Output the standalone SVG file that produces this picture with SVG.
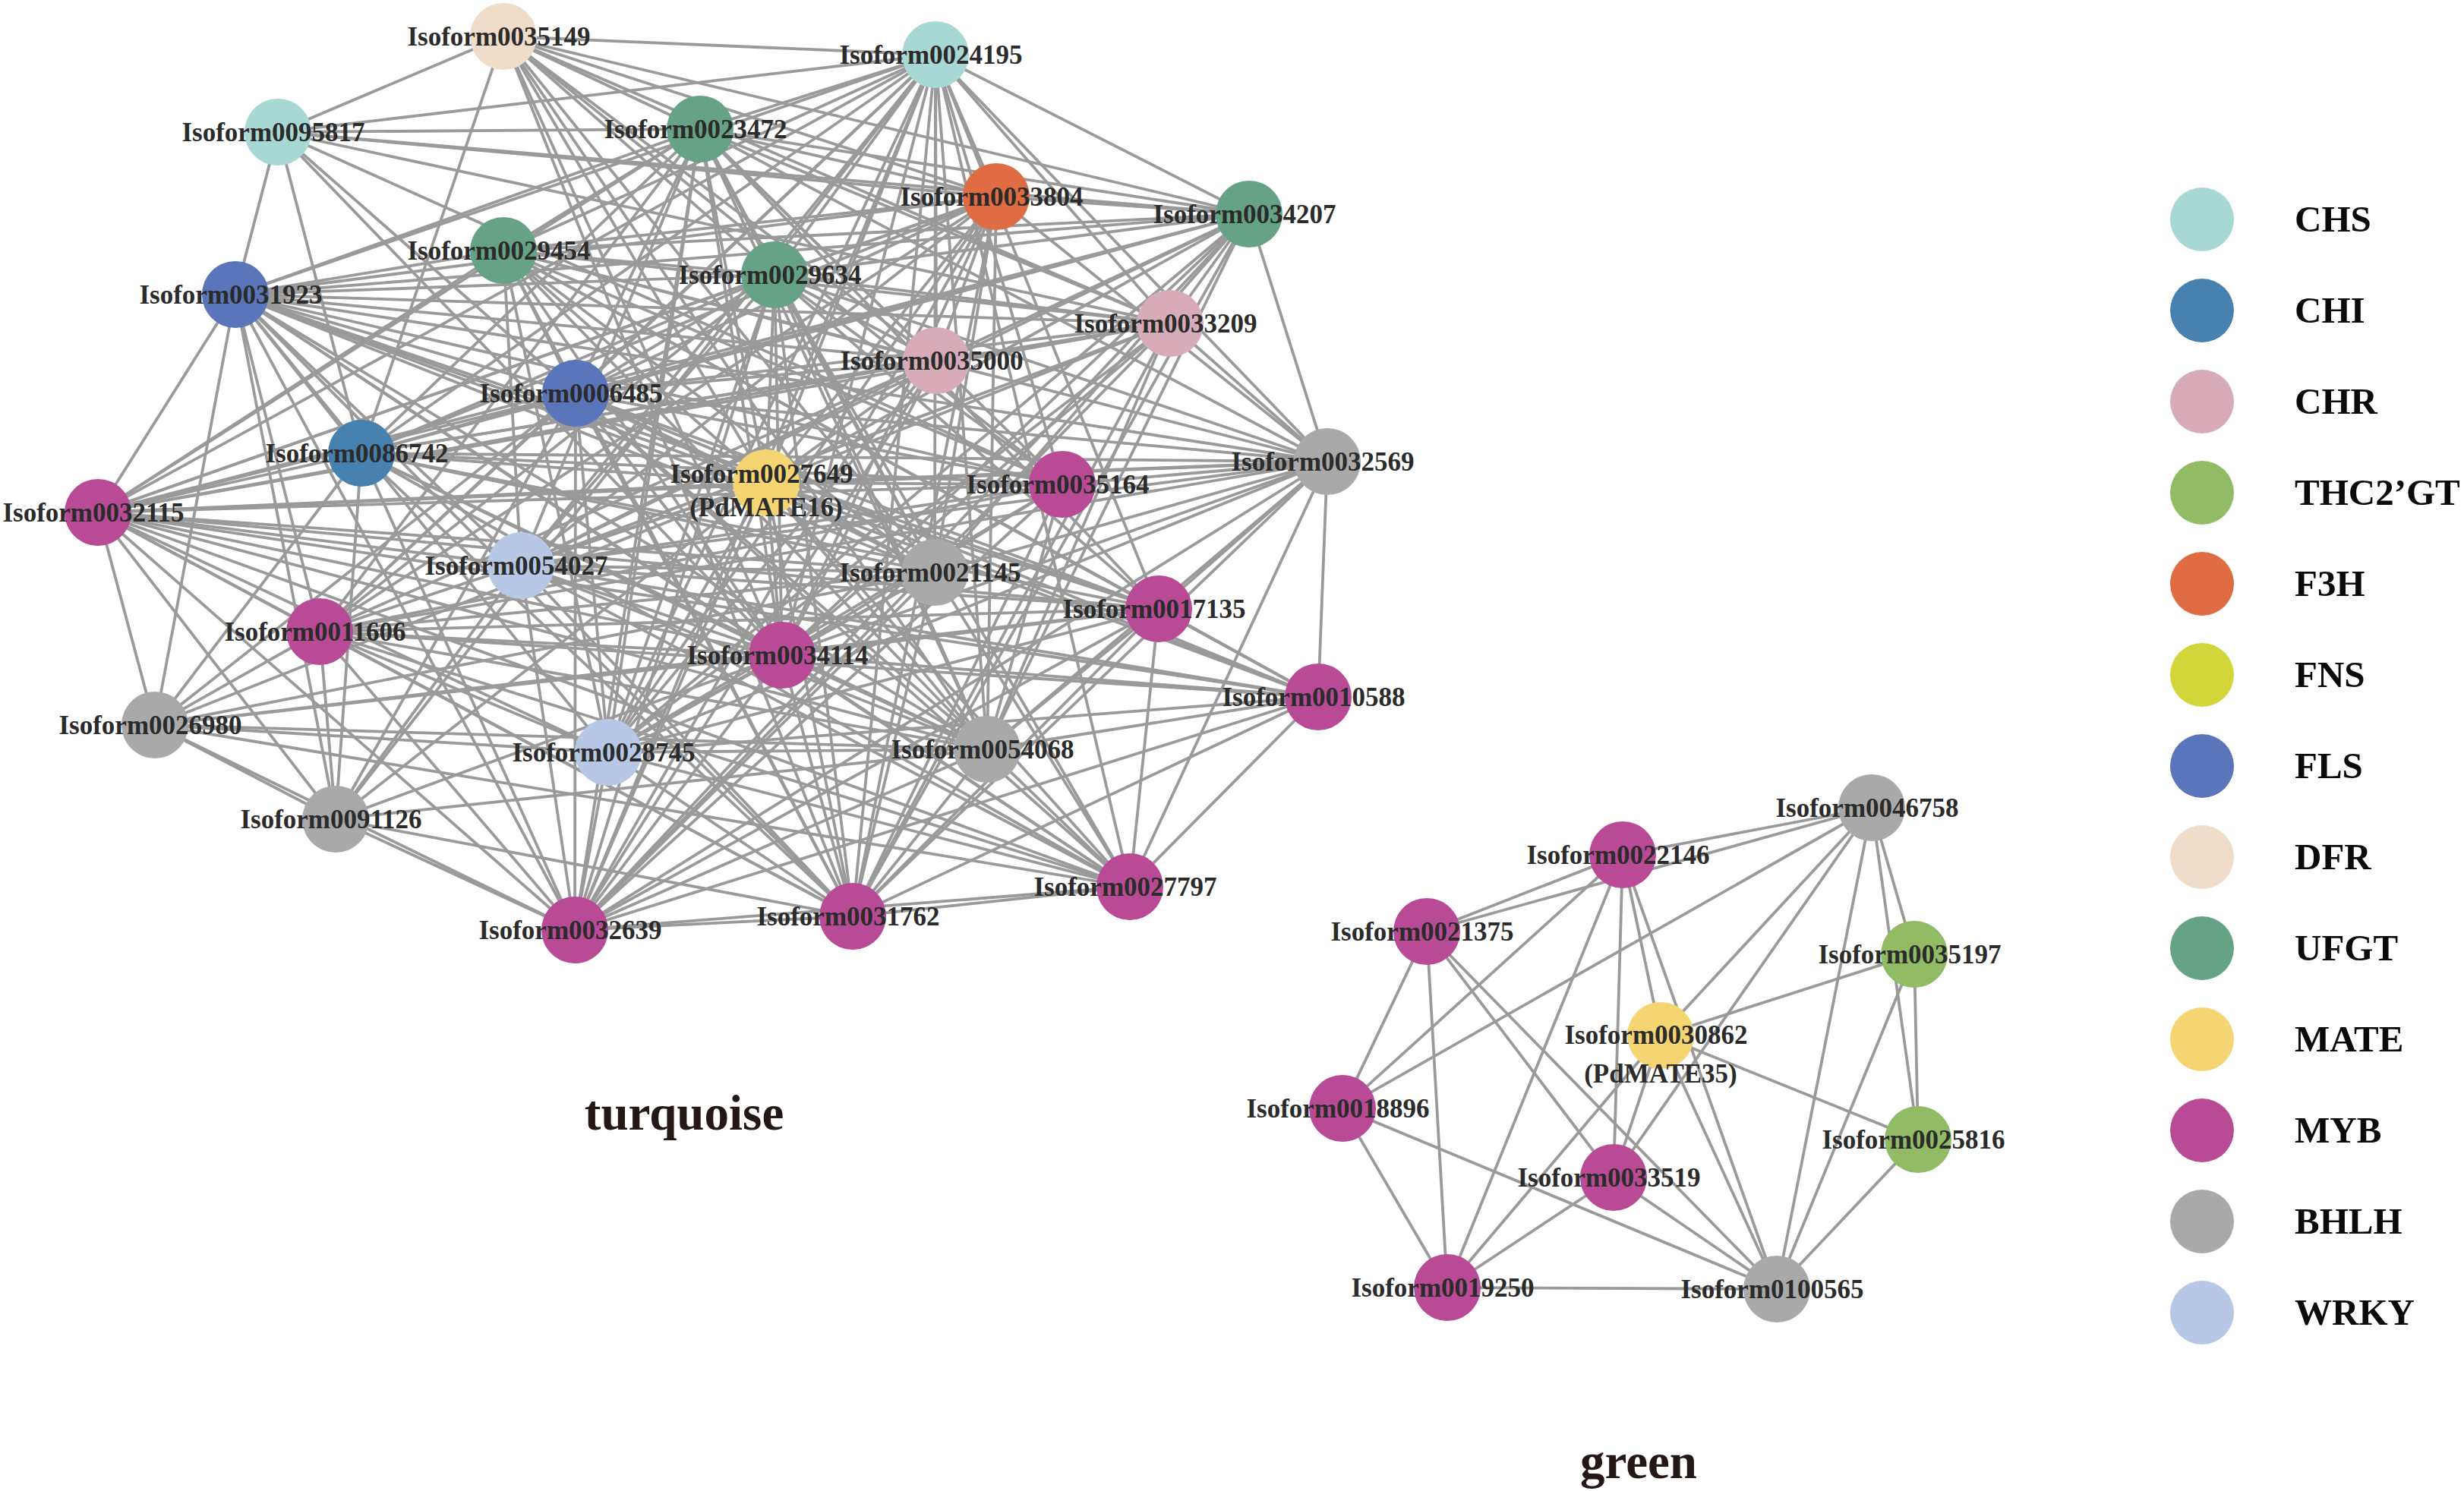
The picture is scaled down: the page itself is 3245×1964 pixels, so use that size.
<svg xmlns="http://www.w3.org/2000/svg" width="3245" height="1964" viewBox="0 0 3245 1964">
<style>
#edges line{stroke:#9a9a9a;stroke-width:3.8}
.n text{font-family:"Liberation Serif","Times New Roman",serif;font-weight:bold;font-size:35px;fill:#2b2b2b;text-anchor:middle}
.leg text{font-family:"Liberation Serif","Times New Roman",serif;font-weight:bold;font-size:49px;fill:#0a0a0a}
.title{font-family:"Liberation Serif","Times New Roman",serif;font-weight:bold;font-size:65px;fill:#231815;text-anchor:middle}
.chs{fill:#a8d8d3}.chi{fill:#4681b0}.chr{fill:#d8abb9}.thc{fill:#91bb64}.f3h{fill:#df6c42}.fns{fill:#d2d63a}.fls{fill:#5a75b9}.dfr{fill:#efdcc9}.ufgt{fill:#66a386}.mate{fill:#f5d572}.myb{fill:#b94a96}.bhlh{fill:#a9a9a9}.wrky{fill:#b7c8e7}
</style>
<rect width="3245" height="1964" fill="#ffffff"/>
<g id="edges">
<line x1="663" y1="48" x2="1232" y2="72"/><line x1="663" y1="48" x2="366" y2="174"/><line x1="663" y1="48" x2="922" y2="170"/><line x1="663" y1="48" x2="1312" y2="259"/><line x1="663" y1="48" x2="1645" y2="282"/><line x1="663" y1="48" x2="1020" y2="362"/><line x1="663" y1="48" x2="1541" y2="426"/><line x1="663" y1="48" x2="1233" y2="475"/><line x1="663" y1="48" x2="476" y2="597"/><line x1="663" y1="48" x2="1009" y2="636"/><line x1="663" y1="48" x2="1399" y2="638"/><line x1="663" y1="48" x2="1231" y2="754"/><line x1="663" y1="48" x2="1030" y2="863"/><line x1="663" y1="48" x2="1300" y2="987"/><line x1="663" y1="48" x2="1123" y2="1207"/>
<line x1="1232" y1="72" x2="366" y2="174"/><line x1="1232" y1="72" x2="922" y2="170"/><line x1="1232" y1="72" x2="1312" y2="259"/><line x1="1232" y1="72" x2="1645" y2="282"/><line x1="1232" y1="72" x2="663" y2="330"/><line x1="1232" y1="72" x2="1020" y2="362"/><line x1="1232" y1="72" x2="310" y2="388"/><line x1="1232" y1="72" x2="1541" y2="426"/><line x1="1232" y1="72" x2="1233" y2="475"/><line x1="1232" y1="72" x2="758" y2="518"/><line x1="1232" y1="72" x2="476" y2="597"/><line x1="1232" y1="72" x2="1748" y2="608"/><line x1="1232" y1="72" x2="1009" y2="636"/><line x1="1232" y1="72" x2="1399" y2="638"/><line x1="1232" y1="72" x2="129" y2="675"/><line x1="1232" y1="72" x2="686" y2="745"/><line x1="1232" y1="72" x2="1231" y2="754"/><line x1="1232" y1="72" x2="1526" y2="802"/><line x1="1232" y1="72" x2="421" y2="832"/><line x1="1232" y1="72" x2="1030" y2="863"/><line x1="1232" y1="72" x2="801" y2="991"/><line x1="1232" y1="72" x2="1300" y2="987"/><line x1="1232" y1="72" x2="442" y2="1079"/><line x1="1232" y1="72" x2="1488" y2="1168"/><line x1="1232" y1="72" x2="1123" y2="1207"/><line x1="1232" y1="72" x2="757" y2="1225"/>
<line x1="366" y1="174" x2="922" y2="170"/><line x1="366" y1="174" x2="1312" y2="259"/><line x1="366" y1="174" x2="1645" y2="282"/><line x1="366" y1="174" x2="310" y2="388"/><line x1="366" y1="174" x2="1541" y2="426"/><line x1="366" y1="174" x2="758" y2="518"/><line x1="366" y1="174" x2="476" y2="597"/><line x1="366" y1="174" x2="1399" y2="638"/><line x1="366" y1="174" x2="1030" y2="863"/>
<line x1="922" y1="170" x2="1312" y2="259"/><line x1="922" y1="170" x2="1645" y2="282"/><line x1="922" y1="170" x2="663" y2="330"/><line x1="922" y1="170" x2="1020" y2="362"/><line x1="922" y1="170" x2="310" y2="388"/><line x1="922" y1="170" x2="1541" y2="426"/><line x1="922" y1="170" x2="1233" y2="475"/><line x1="922" y1="170" x2="758" y2="518"/><line x1="922" y1="170" x2="476" y2="597"/><line x1="922" y1="170" x2="1748" y2="608"/><line x1="922" y1="170" x2="1009" y2="636"/><line x1="922" y1="170" x2="1399" y2="638"/><line x1="922" y1="170" x2="129" y2="675"/><line x1="922" y1="170" x2="686" y2="745"/><line x1="922" y1="170" x2="1231" y2="754"/><line x1="922" y1="170" x2="1526" y2="802"/><line x1="922" y1="170" x2="421" y2="832"/><line x1="922" y1="170" x2="1030" y2="863"/><line x1="922" y1="170" x2="801" y2="991"/><line x1="922" y1="170" x2="1300" y2="987"/><line x1="922" y1="170" x2="757" y2="1225"/>
<line x1="1312" y1="259" x2="1645" y2="282"/><line x1="1312" y1="259" x2="663" y2="330"/><line x1="1312" y1="259" x2="1020" y2="362"/><line x1="1312" y1="259" x2="310" y2="388"/><line x1="1312" y1="259" x2="1233" y2="475"/><line x1="1312" y1="259" x2="758" y2="518"/><line x1="1312" y1="259" x2="476" y2="597"/><line x1="1312" y1="259" x2="1748" y2="608"/><line x1="1312" y1="259" x2="1009" y2="636"/><line x1="1312" y1="259" x2="129" y2="675"/><line x1="1312" y1="259" x2="686" y2="745"/><line x1="1312" y1="259" x2="1231" y2="754"/><line x1="1312" y1="259" x2="421" y2="832"/><line x1="1312" y1="259" x2="1030" y2="863"/><line x1="1312" y1="259" x2="801" y2="991"/><line x1="1312" y1="259" x2="1300" y2="987"/><line x1="1312" y1="259" x2="1123" y2="1207"/><line x1="1312" y1="259" x2="757" y2="1225"/>
<line x1="1645" y1="282" x2="663" y2="330"/><line x1="1645" y1="282" x2="1020" y2="362"/><line x1="1645" y1="282" x2="310" y2="388"/><line x1="1645" y1="282" x2="1541" y2="426"/><line x1="1645" y1="282" x2="1233" y2="475"/><line x1="1645" y1="282" x2="758" y2="518"/><line x1="1645" y1="282" x2="476" y2="597"/><line x1="1645" y1="282" x2="1748" y2="608"/><line x1="1645" y1="282" x2="1009" y2="636"/><line x1="1645" y1="282" x2="129" y2="675"/><line x1="1645" y1="282" x2="686" y2="745"/><line x1="1645" y1="282" x2="1231" y2="754"/><line x1="1645" y1="282" x2="1030" y2="863"/><line x1="1645" y1="282" x2="801" y2="991"/><line x1="1645" y1="282" x2="1300" y2="987"/><line x1="1645" y1="282" x2="1123" y2="1207"/><line x1="1645" y1="282" x2="757" y2="1225"/>
<line x1="663" y1="330" x2="1020" y2="362"/><line x1="663" y1="330" x2="310" y2="388"/><line x1="663" y1="330" x2="1541" y2="426"/><line x1="663" y1="330" x2="1233" y2="475"/><line x1="663" y1="330" x2="758" y2="518"/><line x1="663" y1="330" x2="1748" y2="608"/><line x1="663" y1="330" x2="1009" y2="636"/><line x1="663" y1="330" x2="1399" y2="638"/><line x1="663" y1="330" x2="129" y2="675"/><line x1="663" y1="330" x2="686" y2="745"/><line x1="663" y1="330" x2="1231" y2="754"/><line x1="663" y1="330" x2="1526" y2="802"/><line x1="663" y1="330" x2="1030" y2="863"/><line x1="663" y1="330" x2="1736" y2="918"/><line x1="663" y1="330" x2="801" y2="991"/><line x1="663" y1="330" x2="1300" y2="987"/><line x1="663" y1="330" x2="1123" y2="1207"/>
<line x1="1020" y1="362" x2="310" y2="388"/><line x1="1020" y1="362" x2="1541" y2="426"/><line x1="1020" y1="362" x2="1233" y2="475"/><line x1="1020" y1="362" x2="758" y2="518"/><line x1="1020" y1="362" x2="476" y2="597"/><line x1="1020" y1="362" x2="1748" y2="608"/><line x1="1020" y1="362" x2="1009" y2="636"/><line x1="1020" y1="362" x2="1399" y2="638"/><line x1="1020" y1="362" x2="129" y2="675"/><line x1="1020" y1="362" x2="686" y2="745"/><line x1="1020" y1="362" x2="1231" y2="754"/><line x1="1020" y1="362" x2="1526" y2="802"/><line x1="1020" y1="362" x2="421" y2="832"/><line x1="1020" y1="362" x2="1030" y2="863"/><line x1="1020" y1="362" x2="801" y2="991"/><line x1="1020" y1="362" x2="1300" y2="987"/><line x1="1020" y1="362" x2="1488" y2="1168"/><line x1="1020" y1="362" x2="1123" y2="1207"/><line x1="1020" y1="362" x2="757" y2="1225"/>
<line x1="310" y1="388" x2="1541" y2="426"/><line x1="310" y1="388" x2="1233" y2="475"/><line x1="310" y1="388" x2="758" y2="518"/><line x1="310" y1="388" x2="476" y2="597"/><line x1="310" y1="388" x2="1748" y2="608"/><line x1="310" y1="388" x2="1009" y2="636"/><line x1="310" y1="388" x2="1399" y2="638"/><line x1="310" y1="388" x2="129" y2="675"/><line x1="310" y1="388" x2="686" y2="745"/><line x1="310" y1="388" x2="1231" y2="754"/><line x1="310" y1="388" x2="1526" y2="802"/><line x1="310" y1="388" x2="421" y2="832"/><line x1="310" y1="388" x2="1030" y2="863"/><line x1="310" y1="388" x2="1736" y2="918"/><line x1="310" y1="388" x2="204" y2="955"/><line x1="310" y1="388" x2="801" y2="991"/><line x1="310" y1="388" x2="1300" y2="987"/><line x1="310" y1="388" x2="442" y2="1079"/><line x1="310" y1="388" x2="1488" y2="1168"/><line x1="310" y1="388" x2="1123" y2="1207"/><line x1="310" y1="388" x2="757" y2="1225"/>
<line x1="1541" y1="426" x2="758" y2="518"/><line x1="1541" y1="426" x2="476" y2="597"/><line x1="1541" y1="426" x2="1748" y2="608"/><line x1="1541" y1="426" x2="1009" y2="636"/><line x1="1541" y1="426" x2="129" y2="675"/><line x1="1541" y1="426" x2="686" y2="745"/><line x1="1541" y1="426" x2="1030" y2="863"/><line x1="1541" y1="426" x2="801" y2="991"/><line x1="1541" y1="426" x2="1300" y2="987"/><line x1="1541" y1="426" x2="1123" y2="1207"/><line x1="1541" y1="426" x2="757" y2="1225"/>
<line x1="1233" y1="475" x2="758" y2="518"/><line x1="1233" y1="475" x2="476" y2="597"/><line x1="1233" y1="475" x2="1009" y2="636"/><line x1="1233" y1="475" x2="129" y2="675"/><line x1="1233" y1="475" x2="686" y2="745"/><line x1="1233" y1="475" x2="421" y2="832"/><line x1="1233" y1="475" x2="1030" y2="863"/><line x1="1233" y1="475" x2="801" y2="991"/><line x1="1233" y1="475" x2="757" y2="1225"/>
<line x1="758" y1="518" x2="476" y2="597"/><line x1="758" y1="518" x2="1748" y2="608"/><line x1="758" y1="518" x2="1009" y2="636"/><line x1="758" y1="518" x2="1399" y2="638"/><line x1="758" y1="518" x2="129" y2="675"/><line x1="758" y1="518" x2="1231" y2="754"/><line x1="758" y1="518" x2="1526" y2="802"/><line x1="758" y1="518" x2="421" y2="832"/><line x1="758" y1="518" x2="1030" y2="863"/><line x1="758" y1="518" x2="1736" y2="918"/><line x1="758" y1="518" x2="204" y2="955"/><line x1="758" y1="518" x2="801" y2="991"/><line x1="758" y1="518" x2="1300" y2="987"/><line x1="758" y1="518" x2="442" y2="1079"/><line x1="758" y1="518" x2="1488" y2="1168"/><line x1="758" y1="518" x2="1123" y2="1207"/><line x1="758" y1="518" x2="757" y2="1225"/>
<line x1="476" y1="597" x2="1748" y2="608"/><line x1="476" y1="597" x2="1009" y2="636"/><line x1="476" y1="597" x2="1399" y2="638"/><line x1="476" y1="597" x2="129" y2="675"/><line x1="476" y1="597" x2="1231" y2="754"/><line x1="476" y1="597" x2="1526" y2="802"/><line x1="476" y1="597" x2="1030" y2="863"/><line x1="476" y1="597" x2="204" y2="955"/><line x1="476" y1="597" x2="1300" y2="987"/><line x1="476" y1="597" x2="442" y2="1079"/><line x1="476" y1="597" x2="1488" y2="1168"/><line x1="476" y1="597" x2="1123" y2="1207"/><line x1="476" y1="597" x2="757" y2="1225"/>
<line x1="1748" y1="608" x2="1009" y2="636"/><line x1="1748" y1="608" x2="1399" y2="638"/><line x1="1748" y1="608" x2="129" y2="675"/><line x1="1748" y1="608" x2="686" y2="745"/><line x1="1748" y1="608" x2="1231" y2="754"/><line x1="1748" y1="608" x2="1526" y2="802"/><line x1="1748" y1="608" x2="421" y2="832"/><line x1="1748" y1="608" x2="1030" y2="863"/><line x1="1748" y1="608" x2="1736" y2="918"/><line x1="1748" y1="608" x2="801" y2="991"/><line x1="1748" y1="608" x2="1300" y2="987"/><line x1="1748" y1="608" x2="1488" y2="1168"/><line x1="1748" y1="608" x2="1123" y2="1207"/><line x1="1748" y1="608" x2="757" y2="1225"/>
<line x1="1009" y1="636" x2="1399" y2="638"/><line x1="1009" y1="636" x2="129" y2="675"/><line x1="1009" y1="636" x2="686" y2="745"/><line x1="1009" y1="636" x2="1231" y2="754"/><line x1="1009" y1="636" x2="1526" y2="802"/><line x1="1009" y1="636" x2="421" y2="832"/><line x1="1009" y1="636" x2="1030" y2="863"/><line x1="1009" y1="636" x2="1736" y2="918"/><line x1="1009" y1="636" x2="204" y2="955"/><line x1="1009" y1="636" x2="801" y2="991"/><line x1="1009" y1="636" x2="1300" y2="987"/><line x1="1009" y1="636" x2="442" y2="1079"/><line x1="1009" y1="636" x2="1488" y2="1168"/><line x1="1009" y1="636" x2="1123" y2="1207"/><line x1="1009" y1="636" x2="757" y2="1225"/>
<line x1="1399" y1="638" x2="129" y2="675"/><line x1="1399" y1="638" x2="686" y2="745"/><line x1="1399" y1="638" x2="421" y2="832"/><line x1="1399" y1="638" x2="1030" y2="863"/><line x1="1399" y1="638" x2="801" y2="991"/><line x1="1399" y1="638" x2="1300" y2="987"/><line x1="1399" y1="638" x2="1123" y2="1207"/><line x1="1399" y1="638" x2="757" y2="1225"/>
<line x1="129" y1="675" x2="686" y2="745"/><line x1="129" y1="675" x2="1231" y2="754"/><line x1="129" y1="675" x2="1526" y2="802"/><line x1="129" y1="675" x2="421" y2="832"/><line x1="129" y1="675" x2="1030" y2="863"/><line x1="129" y1="675" x2="1736" y2="918"/><line x1="129" y1="675" x2="204" y2="955"/><line x1="129" y1="675" x2="801" y2="991"/><line x1="129" y1="675" x2="1300" y2="987"/><line x1="129" y1="675" x2="442" y2="1079"/><line x1="129" y1="675" x2="1488" y2="1168"/><line x1="129" y1="675" x2="1123" y2="1207"/><line x1="129" y1="675" x2="757" y2="1225"/>
<line x1="686" y1="745" x2="1231" y2="754"/><line x1="686" y1="745" x2="1526" y2="802"/><line x1="686" y1="745" x2="1030" y2="863"/><line x1="686" y1="745" x2="1736" y2="918"/><line x1="686" y1="745" x2="1300" y2="987"/><line x1="686" y1="745" x2="442" y2="1079"/><line x1="686" y1="745" x2="1488" y2="1168"/><line x1="686" y1="745" x2="1123" y2="1207"/><line x1="686" y1="745" x2="757" y2="1225"/>
<line x1="1231" y1="754" x2="421" y2="832"/><line x1="1231" y1="754" x2="1030" y2="863"/><line x1="1231" y1="754" x2="204" y2="955"/><line x1="1231" y1="754" x2="801" y2="991"/><line x1="1231" y1="754" x2="1488" y2="1168"/><line x1="1231" y1="754" x2="1123" y2="1207"/><line x1="1231" y1="754" x2="757" y2="1225"/>
<line x1="1526" y1="802" x2="421" y2="832"/><line x1="1526" y1="802" x2="1030" y2="863"/><line x1="1526" y1="802" x2="1736" y2="918"/><line x1="1526" y1="802" x2="204" y2="955"/><line x1="1526" y1="802" x2="801" y2="991"/><line x1="1526" y1="802" x2="1300" y2="987"/><line x1="1526" y1="802" x2="1488" y2="1168"/><line x1="1526" y1="802" x2="1123" y2="1207"/><line x1="1526" y1="802" x2="757" y2="1225"/>
<line x1="421" y1="832" x2="1030" y2="863"/><line x1="421" y1="832" x2="1736" y2="918"/><line x1="421" y1="832" x2="204" y2="955"/><line x1="421" y1="832" x2="801" y2="991"/><line x1="421" y1="832" x2="1300" y2="987"/><line x1="421" y1="832" x2="442" y2="1079"/><line x1="421" y1="832" x2="1488" y2="1168"/><line x1="421" y1="832" x2="1123" y2="1207"/><line x1="421" y1="832" x2="757" y2="1225"/>
<line x1="1030" y1="863" x2="1736" y2="918"/><line x1="1030" y1="863" x2="204" y2="955"/><line x1="1030" y1="863" x2="801" y2="991"/><line x1="1030" y1="863" x2="1300" y2="987"/><line x1="1030" y1="863" x2="442" y2="1079"/><line x1="1030" y1="863" x2="1488" y2="1168"/><line x1="1030" y1="863" x2="1123" y2="1207"/><line x1="1030" y1="863" x2="757" y2="1225"/>
<line x1="1736" y1="918" x2="801" y2="991"/><line x1="1736" y1="918" x2="1300" y2="987"/><line x1="1736" y1="918" x2="1488" y2="1168"/><line x1="1736" y1="918" x2="1123" y2="1207"/><line x1="1736" y1="918" x2="757" y2="1225"/>
<line x1="204" y1="955" x2="801" y2="991"/><line x1="204" y1="955" x2="1300" y2="987"/><line x1="204" y1="955" x2="442" y2="1079"/><line x1="204" y1="955" x2="1488" y2="1168"/><line x1="204" y1="955" x2="757" y2="1225"/>
<line x1="801" y1="991" x2="1300" y2="987"/><line x1="801" y1="991" x2="1488" y2="1168"/><line x1="801" y1="991" x2="1123" y2="1207"/><line x1="801" y1="991" x2="757" y2="1225"/>
<line x1="1300" y1="987" x2="442" y2="1079"/><line x1="1300" y1="987" x2="1488" y2="1168"/><line x1="1300" y1="987" x2="1123" y2="1207"/><line x1="1300" y1="987" x2="757" y2="1225"/>
<line x1="442" y1="1079" x2="1123" y2="1207"/><line x1="442" y1="1079" x2="757" y2="1225"/>
<line x1="1488" y1="1168" x2="1123" y2="1207"/><line x1="1488" y1="1168" x2="757" y2="1225"/>
<line x1="1123" y1="1207" x2="757" y2="1225"/>
<line x1="2465" y1="1064" x2="2137" y2="1126"/><line x1="2465" y1="1064" x2="1879" y2="1227"/><line x1="2465" y1="1064" x2="1768" y2="1460"/><line x1="2465" y1="1064" x2="2187" y2="1364"/><line x1="2465" y1="1064" x2="2125" y2="1551"/><line x1="2465" y1="1064" x2="2340" y2="1698"/><line x1="2465" y1="1064" x2="2521" y2="1257"/><line x1="2465" y1="1064" x2="2526" y2="1501"/>
<line x1="2137" y1="1126" x2="1879" y2="1227"/><line x1="2137" y1="1126" x2="1768" y2="1460"/><line x1="2137" y1="1126" x2="1906" y2="1696"/><line x1="2137" y1="1126" x2="2125" y2="1551"/><line x1="2137" y1="1126" x2="2187" y2="1364"/><line x1="2137" y1="1126" x2="2340" y2="1698"/>
<line x1="1879" y1="1227" x2="1768" y2="1460"/><line x1="1879" y1="1227" x2="1906" y2="1696"/><line x1="1879" y1="1227" x2="2125" y2="1551"/><line x1="1879" y1="1227" x2="2340" y2="1698"/>
<line x1="2521" y1="1257" x2="2187" y2="1364"/><line x1="2521" y1="1257" x2="2526" y2="1501"/><line x1="2521" y1="1257" x2="2340" y2="1698"/>
<line x1="2187" y1="1364" x2="2526" y2="1501"/><line x1="2187" y1="1364" x2="2125" y2="1551"/><line x1="2187" y1="1364" x2="1906" y2="1696"/><line x1="2187" y1="1364" x2="2340" y2="1698"/>
<line x1="1768" y1="1460" x2="1906" y2="1696"/><line x1="1768" y1="1460" x2="2340" y2="1698"/>
<line x1="2526" y1="1501" x2="2340" y2="1698"/>
<line x1="2125" y1="1551" x2="1906" y2="1696"/><line x1="2125" y1="1551" x2="2340" y2="1698"/>
<line x1="1906" y1="1696" x2="2340" y2="1698"/>
</g>
<g id="nodes">
<g id="n0035149" class="n"><circle class="dfr" cx="663" cy="48" r="44"/><text x="657" y="60">Isoform0035149</text></g>
<g id="n0024195" class="n"><circle class="chs" cx="1232" cy="72" r="44"/><text x="1226" y="84">Isoform0024195</text></g>
<g id="n0095817" class="n"><circle class="chs" cx="366" cy="174" r="44"/><text x="360" y="186">Isoform0095817</text></g>
<g id="n0023472" class="n"><circle class="ufgt" cx="922" cy="170" r="44"/><text x="916" y="182">Isoform0023472</text></g>
<g id="n0033804" class="n"><circle class="f3h" cx="1312" cy="259" r="44"/><text x="1306" y="271">Isoform0033804</text></g>
<g id="n0034207" class="n"><circle class="ufgt" cx="1645" cy="282" r="44"/><text x="1639" y="294">Isoform0034207</text></g>
<g id="n0029454" class="n"><circle class="ufgt" cx="663" cy="330" r="44"/><text x="657" y="342">Isoform0029454</text></g>
<g id="n0029634" class="n"><circle class="ufgt" cx="1020" cy="362" r="44"/><text x="1014" y="374">Isoform0029634</text></g>
<g id="n0031923" class="n"><circle class="fls" cx="310" cy="388" r="44"/><text x="304" y="400">Isoform0031923</text></g>
<g id="n0033209" class="n"><circle class="chr" cx="1541" cy="426" r="44"/><text x="1535" y="438">Isoform0033209</text></g>
<g id="n0035000" class="n"><circle class="chr" cx="1233" cy="475" r="44"/><text x="1227" y="487">Isoform0035000</text></g>
<g id="n0006485" class="n"><circle class="fls" cx="758" cy="518" r="44"/><text x="752" y="530">Isoform0006485</text></g>
<g id="n0086742" class="n"><circle class="chi" cx="476" cy="597" r="44"/><text x="470" y="609">Isoform0086742</text></g>
<g id="n0032569" class="n"><circle class="bhlh" cx="1748" cy="608" r="44"/><text x="1742" y="620">Isoform0032569</text></g>
<g id="n0027649" class="n"><circle class="mate" cx="1009" cy="636" r="44"/><text x="1003" y="636">Isoform0027649</text><text x="1009" y="680">(PdMATE16)</text></g>
<g id="n0035164" class="n"><circle class="myb" cx="1399" cy="638" r="44"/><text x="1393" y="650">Isoform0035164</text></g>
<g id="n0032115" class="n"><circle class="myb" cx="129" cy="675" r="44"/><text x="123" y="687">Isoform0032115</text></g>
<g id="n0054027" class="n"><circle class="wrky" cx="686" cy="745" r="44"/><text x="680" y="757">Isoform0054027</text></g>
<g id="n0021145" class="n"><circle class="bhlh" cx="1231" cy="754" r="44"/><text x="1225" y="766">Isoform0021145</text></g>
<g id="n0017135" class="n"><circle class="myb" cx="1526" cy="802" r="44"/><text x="1520" y="814">Isoform0017135</text></g>
<g id="n0011606" class="n"><circle class="myb" cx="421" cy="832" r="44"/><text x="415" y="844">Isoform0011606</text></g>
<g id="n0034114" class="n"><circle class="myb" cx="1030" cy="863" r="44"/><text x="1024" y="875">Isoform0034114</text></g>
<g id="n0010588" class="n"><circle class="myb" cx="1736" cy="918" r="44"/><text x="1730" y="930">Isoform0010588</text></g>
<g id="n0026980" class="n"><circle class="bhlh" cx="204" cy="955" r="44"/><text x="198" y="967">Isoform0026980</text></g>
<g id="n0028745" class="n"><circle class="wrky" cx="801" cy="991" r="44"/><text x="795" y="1003">Isoform0028745</text></g>
<g id="n0054068" class="n"><circle class="bhlh" cx="1300" cy="987" r="44"/><text x="1294" y="999">Isoform0054068</text></g>
<g id="n0091126" class="n"><circle class="bhlh" cx="442" cy="1079" r="44"/><text x="436" y="1091">Isoform0091126</text></g>
<g id="n0027797" class="n"><circle class="myb" cx="1488" cy="1168" r="44"/><text x="1482" y="1180">Isoform0027797</text></g>
<g id="n0031762" class="n"><circle class="myb" cx="1123" cy="1207" r="44"/><text x="1117" y="1219">Isoform0031762</text></g>
<g id="n0032639" class="n"><circle class="myb" cx="757" cy="1225" r="44"/><text x="751" y="1237">Isoform0032639</text></g>
<g id="n0046758" class="n"><circle class="bhlh" cx="2465" cy="1064" r="44"/><text x="2459" y="1076">Isoform0046758</text></g>
<g id="n0022146" class="n"><circle class="myb" cx="2137" cy="1126" r="44"/><text x="2131" y="1138">Isoform0022146</text></g>
<g id="n0021375" class="n"><circle class="myb" cx="1879" cy="1227" r="44"/><text x="1873" y="1239">Isoform0021375</text></g>
<g id="n0035197" class="n"><circle class="thc" cx="2521" cy="1257" r="44"/><text x="2515" y="1269">Isoform0035197</text></g>
<g id="n0030862" class="n"><circle class="mate" cx="2187" cy="1364" r="44"/><text x="2181" y="1375">Isoform0030862</text><text x="2187" y="1426">(PdMATE35)</text></g>
<g id="n0018896" class="n"><circle class="myb" cx="1768" cy="1460" r="44"/><text x="1762" y="1472">Isoform0018896</text></g>
<g id="n0025816" class="n"><circle class="thc" cx="2526" cy="1501" r="44"/><text x="2520" y="1513">Isoform0025816</text></g>
<g id="n0033519" class="n"><circle class="myb" cx="2125" cy="1551" r="44"/><text x="2119" y="1563">Isoform0033519</text></g>
<g id="n0019250" class="n"><circle class="myb" cx="1906" cy="1696" r="44"/><text x="1900" y="1708">Isoform0019250</text></g>
<g id="n0100565" class="n"><circle class="bhlh" cx="2340" cy="1698" r="44"/><text x="2334" y="1710">Isoform0100565</text></g>
</g>
<g id="titles">
<text class="title" x="901" y="1488">turquoise</text>
<text class="title" x="2158" y="1947">green</text>
</g>
<g id="legend" class="leg">
<circle class="chs" cx="2900" cy="289" r="42"/><text x="3022" y="305">CHS</text>
<circle class="chi" cx="2900" cy="409" r="42"/><text x="3022" y="425">CHI</text>
<circle class="chr" cx="2900" cy="529" r="42"/><text x="3022" y="545">CHR</text>
<circle class="thc" cx="2900" cy="649" r="42"/><text x="3022" y="665">THC2’GT</text>
<circle class="f3h" cx="2900" cy="769" r="42"/><text x="3022" y="785">F3H</text>
<circle class="fns" cx="2900" cy="889" r="42"/><text x="3022" y="905">FNS</text>
<circle class="fls" cx="2900" cy="1009" r="42"/><text x="3022" y="1025">FLS</text>
<circle class="dfr" cx="2900" cy="1129" r="42"/><text x="3022" y="1145">DFR</text>
<circle class="ufgt" cx="2900" cy="1249" r="42"/><text x="3022" y="1265">UFGT</text>
<circle class="mate" cx="2900" cy="1369" r="42"/><text x="3022" y="1385">MATE</text>
<circle class="myb" cx="2900" cy="1489" r="42"/><text x="3022" y="1505">MYB</text>
<circle class="bhlh" cx="2900" cy="1609" r="42"/><text x="3022" y="1625">BHLH</text>
<circle class="wrky" cx="2900" cy="1729" r="42"/><text x="3022" y="1745">WRKY</text>
</g>
</svg>
